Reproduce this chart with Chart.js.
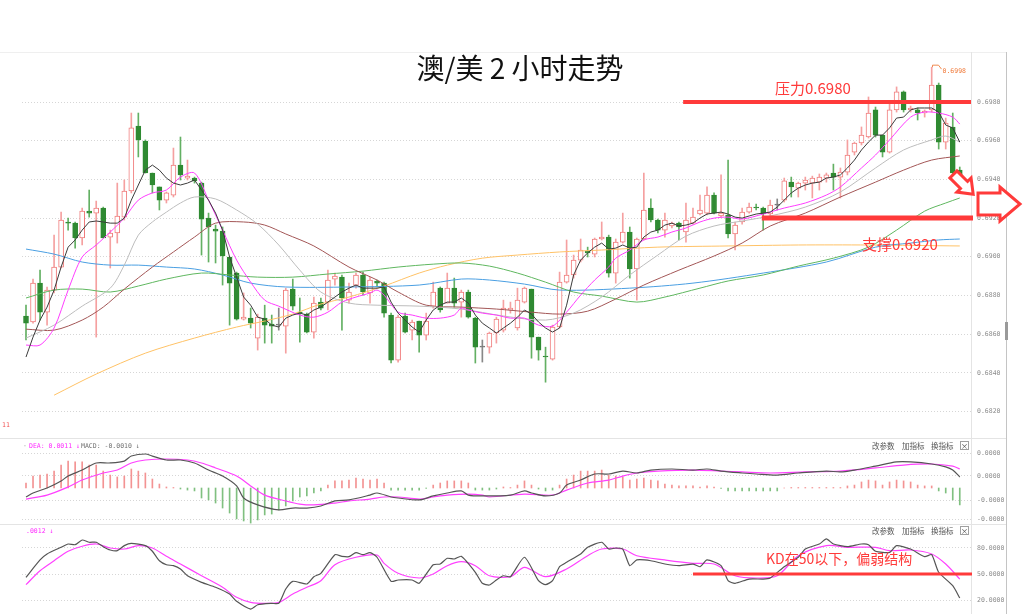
<!DOCTYPE html>
<html>
<head>
<meta charset="utf-8">
<title>澳/美 2 小时走势</title>
<script src="https://cdn.jsdelivr.net/npm/chart.js@4.4.1/dist/chart.umd.min.js"></script>
<style>
  html, body { margin: 0; padding: 0; background: #fff; }
  #page { position: relative; width: 1024px; height: 614px; overflow: hidden; background: #fff; }
  #page canvas { position: absolute; left: 0; }
  .rule { position: absolute; background: #e4e4e4; }
</style>
</head>
<body>
<div id="page">
  <div class="rule" style="left:0;top:52px;width:1006px;height:1px;background:#efefef"></div>
  <div class="rule" style="left:0;top:438px;width:1006px;height:1px"></div>
  <div class="rule" style="left:0;top:524px;width:1006px;height:1px"></div>
  <div class="rule" style="left:971px;top:52px;width:1px;height:562px"></div>
  <div class="rule" style="left:1006px;top:52px;width:1px;height:562px;background:#c4c4c4"></div>
  <div class="rule" style="left:1005px;top:322px;width:3px;height:18px;background:#9a9a9a"></div>
  <canvas id="mainChart" width="1024" height="438" style="top:0"></canvas>
  <canvas id="macdChart" width="1024" height="86" style="top:438px"></canvas>
  <canvas id="kdChart" width="1024" height="90" style="top:524px"></canvas>
</div>
<script>
// ---- values ----
const chartTitle = '澳/美 2 小时走势';

// 2h candles, oldest first
const opens = [0.68694,0.68663,0.68864,0.68714,0.68828,0.68947,0.69180,0.69174,0.69097,0.69236,
0.69226,0.69252,0.69102,0.69123,0.69205,0.69340,0.69676,0.69598,0.69433,0.69361,
0.69293,0.69319,0.69474,0.69407,0.69407,0.69381,0.69200,0.69143,0.69133,0.68999,
0.68916,0.68678,0.68683,0.68580,0.68683,0.68652,0.68647,0.68642,0.68833,0.68714,
0.68704,0.68611,0.68766,0.68766,0.68885,0.68895,0.68776,0.68854,0.68906,0.68813,
0.68875,0.68864,0.68699,0.68466,0.68694,0.68621,0.68668,0.68595,0.68745,0.68838,
0.68761,0.68838,0.68766,0.68818,0.68683,0.68533,0.68533,0.68606,0.68621,0.68725,
0.68632,0.68766,0.68833,0.68585,0.68487,0.68471,0.68637,0.68869,0.68906,0.68983,
0.69030,0.69014,0.69092,0.69102,0.68916,0.69076,0.69128,0.68937,0.69092,0.69252,
0.69190,0.69138,0.69159,0.69174,0.69128,0.69174,0.69221,0.69226,0.69319,0.69211,
0.69216,0.69118,0.69180,0.69231,0.69257,0.69252,0.69221,0.69267,0.69293,0.69386,
0.69355,0.69381,0.69381,0.69386,0.69407,0.69433,0.69412,0.69438,0.69541,0.69588,
0.69619,0.69759,0.69629,0.69541,0.69759,0.69852,0.69759,0.69759,0.69743,0.69759,
0.69888,0.69593,0.69671,0.69448];
const highs = [0.68750,0.68885,0.68931,0.68844,0.69112,0.69231,0.69200,0.69180,0.69252,0.69345,
0.69288,0.69257,0.69138,0.69381,0.69397,0.69743,0.69743,0.69604,0.69433,0.69361,
0.69335,0.69562,0.69619,0.69500,0.69412,0.69386,0.69226,0.69164,0.69154,0.68999,
0.68921,0.68813,0.68735,0.68704,0.68750,0.68699,0.68735,0.68838,0.68885,0.68787,
0.68709,0.68792,0.68787,0.68931,0.68916,0.68906,0.68864,0.68916,0.68921,0.68895,
0.68880,0.68869,0.68709,0.68699,0.68709,0.68673,0.68668,0.68709,0.68869,0.68844,
0.68916,0.68890,0.68828,0.68828,0.68688,0.68570,0.68611,0.68688,0.68776,0.68766,
0.68838,0.68844,0.68833,0.68585,0.68533,0.68647,0.68921,0.69087,0.69009,0.69092,
0.69050,0.69097,0.69180,0.69112,0.69092,0.69226,0.69154,0.69097,0.69433,0.69299,
0.69195,0.69226,0.69180,0.69180,0.69278,0.69252,0.69319,0.69361,0.69330,0.69423,
0.69500,0.69180,0.69252,0.69278,0.69273,0.69257,0.69293,0.69299,0.69407,0.69412,
0.69386,0.69412,0.69417,0.69428,0.69433,0.69479,0.69459,0.69604,0.69593,0.69671,
0.69826,0.69774,0.69629,0.69795,0.69878,0.69857,0.69779,0.69769,0.69759,0.69980,
0.69898,0.69717,0.69743,0.69464];
const lows = [0.68570,0.68657,0.68673,0.68647,0.68813,0.68942,0.69138,0.69045,0.69061,0.69205,
0.68585,0.69097,0.68942,0.69071,0.69190,0.69330,0.69516,0.69433,0.69330,0.69242,
0.69278,0.69309,0.69397,0.69397,0.69381,0.69009,0.68973,0.68968,0.68854,0.68647,
0.68673,0.68673,0.68632,0.68518,0.68554,0.68554,0.68621,0.68502,0.68725,0.68559,
0.68606,0.68580,0.68725,0.68725,0.68854,0.68621,0.68761,0.68838,0.68802,0.68761,
0.68844,0.68688,0.68451,0.68456,0.68606,0.68570,0.68507,0.68570,0.68735,0.68714,
0.68761,0.68740,0.68688,0.68683,0.68451,0.68456,0.68502,0.68554,0.68611,0.68709,
0.68621,0.68761,0.68476,0.68466,0.68352,0.68466,0.68632,0.68864,0.68890,0.68973,
0.68999,0.68999,0.69087,0.68895,0.68864,0.69071,0.68890,0.68776,0.69087,0.69180,
0.69123,0.69102,0.69149,0.69087,0.69076,0.69169,0.69216,0.69216,0.69221,0.69205,
0.69097,0.69035,0.69169,0.69226,0.69242,0.69138,0.69211,0.69242,0.69283,0.69309,
0.69309,0.69345,0.69304,0.69345,0.69386,0.69345,0.69304,0.69423,0.69526,0.69578,
0.69614,0.69619,0.69516,0.69536,0.69748,0.69748,0.69748,0.69707,0.69722,0.69748,
0.69557,0.69557,0.69423,0.69371];
const closes = [0.68657,0.68864,0.68714,0.68828,0.68947,0.69190,0.69174,0.69097,0.69236,0.69226,
0.69252,0.69097,0.69123,0.69211,0.69340,0.69666,0.69604,0.69433,0.69371,0.69293,
0.69330,0.69474,0.69423,0.69417,0.69392,0.69195,0.69154,0.69133,0.69004,0.68864,
0.68678,0.68688,0.68657,0.68688,0.68647,0.68642,0.68647,0.68828,0.68745,0.68709,
0.68611,0.68761,0.68735,0.68880,0.68900,0.68787,0.68818,0.68906,0.68818,0.68880,
0.68864,0.68709,0.68466,0.68688,0.68611,0.68663,0.68595,0.68668,0.68818,0.68725,
0.68838,0.68761,0.68818,0.68688,0.68533,0.68533,0.68606,0.68678,0.68735,0.68735,
0.68776,0.68838,0.68585,0.68518,0.68482,0.68637,0.68869,0.68906,0.68983,0.69035,
0.69020,0.69092,0.69102,0.68916,0.69076,0.69128,0.68937,0.69092,0.69242,0.69190,
0.69138,0.69190,0.69174,0.69154,0.69190,0.69205,0.69242,0.69319,0.69226,0.69226,
0.69118,0.69164,0.69231,0.69257,0.69252,0.69221,0.69267,0.69267,0.69392,0.69361,
0.69381,0.69397,0.69407,0.69412,0.69423,0.69412,0.69438,0.69526,0.69588,0.69629,
0.69743,0.69629,0.69541,0.69759,0.69852,0.69759,0.69769,0.69743,0.69753,0.69888,
0.69593,0.69691,0.69433,0.69381];

// moving averages (black line read at every candle, the others at sample candles)
const ma5 = [0.68482,0.68585,0.68673,0.68740,0.68828,0.68947,0.69050,0.69087,0.69138,0.69180,
0.69185,0.69180,0.69174,0.69174,0.69200,0.69293,0.69371,0.69448,0.69474,0.69448,
0.69407,0.69381,0.69371,0.69381,0.69397,0.69345,0.69293,0.69226,0.69138,0.68999,
0.68895,0.68792,0.68750,0.68688,0.68678,0.68647,0.68637,0.68683,0.68699,0.68709,
0.68699,0.68725,0.68740,0.68766,0.68792,0.68818,0.68838,0.68854,0.68838,0.68838,
0.68838,0.68844,0.68766,0.68709,0.68673,0.68637,0.68611,0.68673,0.68725,0.68750,
0.68766,0.68766,0.68787,0.68761,0.68699,0.68657,0.68632,0.68606,0.68632,0.68657,
0.68688,0.68725,0.68704,0.68663,0.68632,0.68611,0.68632,0.68750,0.68906,0.68983,
0.69020,0.69050,0.69071,0.69040,0.69045,0.69061,0.69045,0.69050,0.69102,0.69128,
0.69138,0.69164,0.69174,0.69159,0.69164,0.69174,0.69200,0.69221,0.69226,0.69231,
0.69221,0.69205,0.69200,0.69211,0.69221,0.69226,0.69231,0.69257,0.69293,0.69330,
0.69355,0.69371,0.69381,0.69386,0.69407,0.69412,0.69423,0.69459,0.69500,0.69552,
0.69593,0.69629,0.69629,0.69666,0.69717,0.69722,0.69759,0.69769,0.69769,0.69769,
0.69748,0.69681,0.69666,0.69593];
const ma10Idx = [0,2,4,6,8,10,12,14,16,18,20,22,24,26,28,30,32,34,36,39,41,43,45,47,49,50,51,53,55,57,
59,61,62,63,65,67,69,71,73,75,77,79,81,83,84,86,88,90,92,94,96,98,100,102,105,108,111,114,116,119,
121,123,126,128,130,132,133];
const ma10Val = [0.68544,0.68544,0.68632,0.68828,0.68999,0.69061,0.69128,0.69200,0.69293,0.69330,
0.69345,0.69412,0.69433,0.69293,0.69138,0.68983,0.68869,0.68776,0.68745,0.68699,
0.68688,0.68714,0.68766,0.68792,0.68813,0.68828,0.68802,0.68714,0.68699,0.68683,
0.68683,0.68699,0.68735,0.68725,0.68709,0.68699,0.68683,0.68683,0.68647,0.68642,
0.68714,0.68802,0.68880,0.68947,0.68993,0.69035,0.69087,0.69102,0.69128,0.69149,
0.69180,0.69200,0.69205,0.69195,0.69221,0.69252,0.69278,0.69319,0.69361,0.69459,
0.69526,0.69604,0.69722,0.69748,0.69743,0.69722,0.69686];
const ma20Idx = [0,4,8,12,14,16,18,20,22,24,27,30,33,36,39,42,46,50,56,62,68,74,78,82,86,90,94,98,102,106,
111,116,121,125,129,131,133];
const ma20Val = [0.68580,0.68647,0.68745,0.68838,0.68957,0.69112,0.69180,0.69231,0.69278,0.69309,
0.69299,0.69242,0.69169,0.69061,0.68931,0.68818,0.68761,0.68750,0.68745,0.68730,
0.68694,0.68673,0.68709,0.68792,0.68906,0.69009,0.69107,0.69159,0.69185,0.69211,
0.69257,0.69335,0.69459,0.69552,0.69604,0.69624,0.69593];
const ma30Idx = [0,4,8,11,14,18,21,24,27,31,34,37,41,46,50,53,57,62,67,72,76,80,84,88,93,98,102,106,111,116,
121,125,129,133];
const ma30Val = [0.68626,0.68621,0.68673,0.68740,0.68833,0.68947,0.69025,0.69102,0.69174,0.69180,
0.69164,0.69118,0.69056,0.68947,0.68880,0.68818,0.68750,0.68740,0.68730,0.68714,
0.68704,0.68719,0.68782,0.68854,0.68931,0.69004,0.69071,0.69159,0.69226,0.69309,
0.69386,0.69448,0.69500,0.69521];
const ma60Idx = [0,4,8,12,16,20,25,29,33,38,43,48,53,58,62,66,70,74,78,82,87,91,96,100,105,110,115,120,124,128,131,133];
const ma60Val = [0.68787,0.68828,0.68833,0.68818,0.68849,0.68885,0.68916,0.68906,0.68895,0.68895,
0.68911,0.68926,0.68947,0.68962,0.68968,0.68952,0.68916,0.68869,0.68818,0.68797,
0.68766,0.68792,0.68838,0.68875,0.68906,0.68952,0.68993,0.69050,0.69138,0.69236,
0.69278,0.69304];
const ma120Idx = [0,4,8,12,16,20,24,28,32,37,46,56,62,66,71,76,86,95,105,114,121,126,130,133];
const ma120Val = [0.69040,0.69014,0.68973,0.68957,0.68957,0.68947,0.68937,0.68906,0.68864,0.68844,
0.68844,0.68854,0.68885,0.68880,0.68859,0.68828,0.68838,0.68864,0.68916,0.68973,
0.69050,0.69071,0.69087,0.69092];
const ma250Idx = [4,10,17,24,30,34,38,42,46,51,56,60,65,70,76,82,90,100,110,120,133];
const ma250Val = [0.68285,0.68394,0.68502,0.68580,0.68637,0.68668,0.68704,0.68756,0.68792,0.68849,
0.68916,0.68957,0.68993,0.69009,0.69025,0.69035,0.69050,0.69056,0.69061,0.69061,0.69056];
const priceTicks = [0.682, 0.684, 0.686, 0.688, 0.690, 0.692, 0.694, 0.696, 0.698];

// MACD panel
const macdHist = [0.00029,0.00069,0.00075,0.00081,0.00098,0.00133,0.00156,0.00151,0.00151,0.00133,
0.00133,0.00098,0.00075,0.00064,0.00069,0.00110,0.00098,0.00087,0.00052,0.00023,
0.00006,0.00003,-0.00006,-0.00012,-0.00017,-0.00058,-0.00069,-0.00087,-0.00116,-0.00145,
-0.00179,-0.00191,-0.00203,-0.00185,-0.00156,-0.00151,-0.00127,-0.00104,-0.00075,-0.00052,
-0.00046,-0.00029,-0.00017,0.00017,0.00041,0.00041,0.00046,0.00058,0.00052,0.00046,
0.00052,0.00029,-0.00012,-0.00012,-0.00012,-0.00012,-0.00012,-0.00002,0.00017,0.00029,
0.00041,0.00041,0.00041,0.00029,-0.00012,-0.00012,-0.00012,-0.00006,0.00006,0.00003,
0.00017,0.00041,0.00017,-0.00006,-0.00017,-0.00012,0.00017,0.00052,0.00075,0.00098,
0.00098,0.00098,0.00104,0.00075,0.00069,0.00064,0.00046,0.00052,0.00058,0.00046,
0.00041,0.00023,0.00017,0.00012,0.00012,0.00012,0.00006,0.00012,0.00006,-0.00003,
-0.00017,-0.00017,-0.00017,-0.00017,-0.00017,-0.00017,-0.00017,-0.00017,0,0.00003,
0.00003,0.00003,0.00003,0.00003,0.00003,0.00003,0.00003,0.00012,0.00017,0.00035,
0.00046,0.00041,0.00017,0.00035,0.00046,0.00041,0.00035,0.00017,0.00012,0.00012,
-0.00017,-0.00029,-0.00069,-0.00098];
const difIdx = [0,1,3,5,6,8,10,12,14,15,17,18,20,22,24,26,28,30,31,33,36,38,40,42,44,46,49,50,52,53,
56,58,60,62,63,65,69,71,72,74,76,77,79,81,83,85,87,89,92,95,97,99,102,104,107,110,114,116,118,121,
124,126,129,131,132,133];
const difVal = [-0.00052,-0.00029,0,0.00041,0.00069,0.00104,0.00145,0.00145,0.00156,0.00185,
0.00197,0.00185,0.00162,0.00162,0.00145,0.00104,0.00069,0.00012,-0.00058,-0.00098,
-0.00127,-0.00116,-0.00116,-0.00104,-0.00075,-0.00069,-0.00041,-0.00029,-0.00052,-0.00058,
-0.00069,-0.00046,-0.00029,-0.00017,-0.00041,-0.00046,-0.00041,-0.00017,-0.00029,-0.00046,
-0.00029,0.00017,0.00046,0.00081,0.00081,0.00098,0.00087,0.00104,0.00110,0.00104,
0.00110,0.00098,0.00087,0.00081,0.00075,0.00087,0.00098,0.00093,0.00104,0.00127,
0.00151,0.00151,0.00139,0.00122,0.00104,0.00064];
const deaIdx = [0,3,6,8,11,13,15,17,20,23,25,27,30,32,34,37,39,41,44,46,49,51,53,56,58,60,63,65,66,71,
75,77,80,83,85,87,90,95,99,102,106,111,116,121,125,129,132,133];
const deaVal = [-0.00064,-0.00041,0.00006,0.00046,0.00087,0.00104,0.00145,0.00162,0.00168,0.00162,
0.00145,0.00116,0.00069,0.00012,-0.00041,-0.00075,-0.00093,-0.00098,-0.00087,-0.00075,
-0.00064,-0.00052,-0.00052,-0.00064,-0.00052,-0.00041,-0.00035,-0.00041,-0.00052,-0.00035,
-0.00041,-0.00012,0.00029,0.00046,0.00069,0.00087,0.00098,0.00104,0.00098,0.00093,
0.00087,0.00093,0.00098,0.00116,0.00133,0.00139,0.00127,0.00110];
const macdTicks = [0.0020, 0.0007, -0.0007, -0.0018];
const macdTickLabels = ['0.0000', '0.0000', '-0.0000', '-0.0000'];

// KD panel
const kIdx = [0,2,3,5,6,7,8,9,10,11,12,13,14,15,17,18,19,20,21,22,23,25,27,29,30,32,33,35,36,37,
38,40,41,42,44,45,46,47,48,49,50,52,53,55,56,58,59,60,61,62,64,65,66,67,68,69,71,73,74,75,
76,77,79,80,82,83,84,85,86,87,89,91,93,95,96,97,99,100,101,103,105,106,108,110,111,113,114,115,117,119,
120,121,123,124,126,128,129,130,132,133];
const kVal = [46.2,66.2,73.1,80.8,84.6,83.8,89.2,86.6,86.6,81.5,77.7,76.9,82.7,85.4,82.7,76.2,65.3,60.7,59.6,55.8,
48.0,40.4,34.7,26.9,18.5,9.6,14.6,16.2,16.2,32.7,41.6,38.5,46.9,50.8,72.3,70.4,70.0,74.6,72.3,74.6,
69.3,41.6,43.1,43.1,39.3,60.7,61.5,68.1,67.3,70.4,52.0,39.3,37.3,43.1,48.0,46.9,69.3,42.3,37.7,42.3,
58.4,63.5,73.1,80.8,86.6,78.8,80.0,78.8,59.6,66.2,65.3,61.5,59.6,61.5,58.4,66.2,59.6,42.3,39.3,44.2,
44.2,45.4,58.4,69.3,78.8,84.6,90.4,84.6,81.5,84.6,83.8,76.2,75.0,82.7,78.8,70.0,72.3,52.0,36.5,22.3];
const dIdx = [0,2,4,6,8,10,12,14,16,18,20,22,25,28,30,32,34,36,38,40,42,44,47,50,51,53,56,58,60,62,
64,66,69,71,74,77,80,82,85,87,91,95,98,101,104,107,110,114,117,121,123,126,129,131,133];
const dVal = [37.7,53.8,65.3,76.2,82.0,84.6,80.0,78.8,82.7,80.0,70.4,61.5,48.0,34.7,23.1,17.3,16.2,17.3,26.9,34.7,
42.3,60.7,69.3,71.9,62.3,50.8,45.4,50.0,59.6,64.2,59.6,48.0,46.9,57.7,46.9,55.8,71.1,78.8,78.8,71.1,
66.2,62.3,61.5,48.0,45.4,48.0,71.1,82.7,80.8,80.8,76.9,77.7,73.1,61.5,44.2];
const kdTicks = [80, 50, 20];

// hand drawn notes on the picture
const resistLevel = 0.6980, supportLevel = 0.6920, kdLevel = 50;
const resistLabel = '压力0.6980', supportLabel = '支撑0.6920', kdLabel = 'KD在50以下，偏弱结构';
const kdLegend = '.0012 ↓';
const panelButtons = ['改参数', '加指标', '换指标'];

// ---- layout and styles ----
const xMin = -0.57, xMax = 134.6;
const markRed = '#ff3a3a';
const idx = opens.map((_, i) => i);

function pairs(ix, vals) {
    return ix.map((x, k) => ({ x: x, y: vals[k] }));
}

function pick(i, up, down, flat) {
    if (closes[i] > opens[i]) return up;
    if (closes[i] < opens[i]) return down;
    return flat;
}

function maLine(data, color, tension) {
    return {
        type: 'line', data: data, borderColor: color, borderWidth: 1,
        pointRadius: 0, tension: tension, order: 0
    };
}

function xAxis() {
    return { type: 'linear', min: xMin, max: xMax, offset: false, display: false };
}

function yAxis(min, max, tickVals, fmt) {
    return {
        position: 'right', min: min, max: max,
        // fixed width, and no extra room for half tick labels
        afterFit: s => { s.width = 53; s.paddingTop = 0; s.paddingBottom = 0; },
        afterBuildTicks: s => { s.ticks = tickVals.map(v => ({ value: v })); },
        grid: { color: '#d6d6d6', drawTicks: false, lineWidth: 1 },
        border: { display: false, dash: [1, 2] },
        ticks: {
            padding: 6, color: '#8c8c8c',
            font: { family: 'DejaVu Sans Mono', size: 6.5 },
            callback: fmt
        }
    };
}

const common = {
    responsive: false,
    animation: false,
    events: [],
    plugins: { legend: { display: false }, tooltip: { enabled: false } }
};

function drawButtons(ctx, cy) {
    ctx.font = '7.5px "Noto Sans CJK SC"';
    ctx.fillStyle = '#555';
    ctx.textAlign = 'left';
    ctx.textBaseline = 'middle';
    [872, 902, 931].forEach((bx, k) => ctx.fillText(panelButtons[k], bx, cy));
    ctx.strokeStyle = '#a0a0a0';
    ctx.lineWidth = 1;
    ctx.strokeRect(960.5, cy - 4.5, 8, 8);
    ctx.textAlign = 'center';
    ctx.fillText('×', 964.5, cy);
}

function hollowArrow(ctx, cx, cy, angle, pts) {
    ctx.save();
    ctx.translate(cx, cy);
    ctx.rotate(angle);
    ctx.beginPath();
    pts.forEach((p, k) => k ? ctx.lineTo(p[0], p[1]) : ctx.moveTo(p[0], p[1]));
    ctx.closePath();
    ctx.fillStyle = '#fff';
    ctx.fill();
    ctx.strokeStyle = markRed;
    ctx.lineWidth = 3;
    ctx.lineJoin = 'miter';
    ctx.stroke();
    ctx.restore();
}

// title, support / resistance, max marker and arrows
const mainNotes = {
    id: 'mainNotes',
    afterDatasetsDraw(chart) {
        const { ctx, chartArea: a, scales: { x, y } } = chart;
        ctx.save();

        ctx.fillStyle = '#111';
        ctx.font = '28px "Noto Sans CJK SC"';
        ctx.textAlign = 'center';
        ctx.textBaseline = 'middle';
        ctx.fillText(chartTitle, 520, 68);

        const ry = y.getPixelForValue(resistLevel);
        const sy = y.getPixelForValue(supportLevel);
        ctx.strokeStyle = markRed;
        ctx.lineWidth = 4;
        ctx.beginPath(); ctx.moveTo(x.getPixelForValue(93.6), ry); ctx.lineTo(a.right, ry); ctx.stroke();
        ctx.lineWidth = 5;
        ctx.beginPath(); ctx.moveTo(x.getPixelForValue(104.8), sy); ctx.lineTo(a.right + 2, sy); ctx.stroke();

        ctx.font = '15px "Noto Sans CJK SC"';
        ctx.fillStyle = markRed;
        ctx.textAlign = 'left';
        ctx.fillText(resistLabel, 775, ry - 14);
        ctx.fillText(supportLabel, 862, sy + 26);

        // highest high marker
        const top = Math.max(...highs);
        const hi = highs.indexOf(top);
        const px = Math.round(x.getPixelForValue(hi)) + 0.5;
        const py = y.getPixelForValue(top);
        ctx.strokeStyle = '#f08a50';
        ctx.lineWidth = 1;
        ctx.beginPath();
        ctx.moveTo(px, py); ctx.lineTo(px, py - 2); ctx.lineTo(px + 6, py - 2); ctx.lineTo(px + 9, py + 2);
        ctx.stroke();
        ctx.fillStyle = '#f07a3a';
        ctx.font = '6.5px "DejaVu Sans Mono"';
        ctx.fillText(top.toFixed(4), px + 10, py + 4);

        ctx.fillStyle = '#f25555';
        ctx.fillText('11', 2, 425);

        // arrows pointing down / right
        hollowArrow(ctx, 964, 185, Math.PI / 4, [[-15, -5], [0, -5], [0, -10], [13, 0], [0, 10], [0, 5], [-15, 5]]);
        hollowArrow(ctx, 999, 204, 0, [[-21, -11], [1, -11], [1, -17], [21, 0], [1, 17], [1, 11], [-21, 11]]);
        ctx.restore();
    }
};

new Chart(document.getElementById('mainChart'), {
    type: 'bar',
    data: {
        datasets: [
            maLine(pairs(idx, ma5), '#3c3c3c', 0),
            maLine(pairs(ma10Idx, ma10Val), '#ff3cff', 0.3),
            maLine(pairs(ma20Idx, ma20Val), '#bdbdbd', 0.3),
            maLine(pairs(ma30Idx, ma30Val), '#a35656', 0.3),
            maLine(pairs(ma60Idx, ma60Val), '#5fb75f', 0.3),
            maLine(pairs(ma120Idx, ma120Val), '#4a9fe2', 0.3),
            maLine(pairs(ma250Idx, ma250Val), '#ffc266', 0.3),
            {
                type: 'bar',
                data: idx.map(i => ({ x: i, y: [Math.min(opens[i], closes[i]), Math.max(opens[i], closes[i])] })),
                backgroundColor: idx.map(i => pick(i, '#ffffff', '#2f8a32', '#777')),
                borderColor: idx.map(i => pick(i, '#f07c7c', '#2f8a32', '#777')),
                borderWidth: 1, borderSkipped: false,
                barThickness: 5, minBarLength: 1, grouped: false, order: 1
            },
            {
                type: 'bar',
                data: idx.map(i => ({ x: i, y: [lows[i], highs[i]] })),
                backgroundColor: idx.map(i => pick(i, '#f5a0a0', '#63b063', '#888')),
                barThickness: 1, grouped: false, order: 2
            }
        ]
    },
    options: Object.assign({}, common, {
        layout: { padding: { left: 22, right: 0, top: 52, bottom: 6 } },
        scales: {
            x: xAxis(),
            y: yAxis(0.680946, 0.700584, priceTicks, v => v.toFixed(4))
        }
    }),
    plugins: [mainNotes]
});

// MACD
const macdNotes = {
    id: 'macdNotes',
    afterDatasetsDraw(chart) {
        const ctx = chart.ctx;
        ctx.save();
        ctx.font = '6.5px "DejaVu Sans Mono"';
        ctx.textAlign = 'left';
        ctx.textBaseline = 'middle';
        ctx.fillStyle = '#999';
        ctx.fillText('·', 23, 8);
        ctx.fillStyle = '#ff2cff';
        ctx.fillText('DEA: ' + deaVal[deaVal.length - 1].toFixed(4) + ' ↓', 29, 8);
        ctx.fillStyle = '#707070';
        ctx.fillText('MACD: ' + macdHist[macdHist.length - 1].toFixed(4) + ' ↓', 81, 8);
        drawButtons(ctx, 8);
        ctx.restore();
    }
};

new Chart(document.getElementById('macdChart'), {
    type: 'bar',
    data: {
        datasets: [
            {
                type: 'line', data: pairs(difIdx, difVal), borderColor: '#555', borderWidth: 1.2,
                pointRadius: 0, tension: 0.3, order: 0
            },
            {
                type: 'line', data: pairs(deaIdx, deaVal), borderColor: '#ff40ff', borderWidth: 1.2,
                pointRadius: 0, tension: 0.3, order: 0
            },
            {
                type: 'bar',
                data: idx.map(i => ({ x: i, y: macdHist[i] })),
                backgroundColor: macdHist.map(v => v >= 0 ? '#f39393' : '#80c080'),
                barThickness: 1, grouped: false, order: 1
            }
        ]
    },
    options: Object.assign({}, common, {
        layout: { padding: { left: 22, right: 0, top: 1, bottom: 0 } },
        scales: {
            x: xAxis(),
            y: yAxis(-0.002084, 0.002837, macdTicks, (v, i) => macdTickLabels[i])
        }
    }),
    plugins: [macdNotes]
});

// KD
const kdNotes = {
    id: 'kdNotes',
    afterDatasetsDraw(chart) {
        const { ctx, chartArea: a, scales: { x, y } } = chart;
        const ly = y.getPixelForValue(kdLevel);
        ctx.save();
        ctx.strokeStyle = markRed;
        ctx.lineWidth = 3;
        ctx.beginPath(); ctx.moveTo(x.getPixelForValue(95), ly); ctx.lineTo(a.right + 1, ly); ctx.stroke();
        ctx.font = '14px "Noto Sans CJK SC"';
        ctx.fillStyle = markRed;
        ctx.textAlign = 'left';
        ctx.textBaseline = 'middle';
        ctx.fillText(kdLabel, 766, ly - 15);
        ctx.font = '6.5px "DejaVu Sans Mono"';
        ctx.fillStyle = '#ff2cff';
        ctx.fillText(kdLegend, 26, 7);
        drawButtons(ctx, 7);
        ctx.restore();
    }
};

new Chart(document.getElementById('kdChart'), {
    type: 'line',
    data: {
        datasets: [
            { data: pairs(kIdx, kVal), borderColor: '#555', borderWidth: 1.2, pointRadius: 0, tension: 0.2 },
            { data: pairs(dIdx, dVal), borderColor: '#ff40ff', borderWidth: 1.2, pointRadius: 0, tension: 0.3 }
        ]
    },
    options: Object.assign({}, common, {
        layout: { padding: { left: 22, right: 0, top: 1, bottom: 2 } },
        scales: {
            x: xAxis(),
            y: yAxis(6.2, 106.5, kdTicks, v => v.toFixed(4))
        }
    }),
    plugins: [kdNotes]
});
</script>
</body>
</html>
